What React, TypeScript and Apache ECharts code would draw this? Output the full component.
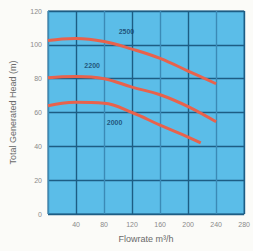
import React, { useEffect, useRef } from "react";
import * as echarts from "echarts";

const xTicks = [0, 40, 80, 120, 160, 200, 240, 280];
const yTicks = [0, 20, 40, 60, 80, 100, 120];

const flow2500 = [0, 20, 40, 80, 120, 160, 200, 240];
const head2500 = [102.5, 103.5, 103.8, 102, 97.5, 92, 84.5, 77];

const flow2200 = [0, 20, 40, 80, 120, 160, 200, 240];
const head2200 = [80.5, 81.2, 81.3, 80, 75, 70.5, 63.5, 54.5];

const flow2000 = [0, 20, 40, 80, 120, 160, 200, 218];
const head2000 = [64, 65.5, 66, 65.5, 60, 52.5, 45.5, 42];

const curveLabels = ["2500", "2200", "2000"];
const labelPos = [
  [112, 108],
  [63, 88],
  [95, 54],
];

function pairs(xs: number[], ys: number[]) {
  return xs.map((x, i) => [x, ys[i]]);
}

export default function App() {
  const ref = useRef<HTMLDivElement>(null);
  useEffect(() => {
    const chart = echarts.init(ref.current!, null, { renderer: "svg" });
    const curveStyle = { color: "#e8624c", width: 3 };
    chart.setOption({
      animation: false,
      textStyle: { fontFamily: "Liberation Sans, Arial, sans-serif" },
      grid: {
        left: 46,
        top: 11,
        width: 206,
        height: 203,
        show: true,
        backgroundColor: "#5bbde8",
        borderColor: "#1d5d84",
        borderWidth: 1,
      },
      xAxis: {
        type: "value",
        min: 0,
        max: 280,
        interval: 40,
        name: "Flowrate m\u00b3/h",
        nameLocation: "middle",
        nameGap: 20,
        nameTextStyle: { color: "#6a6a6a", fontSize: 9 },
        axisLine: { show: false },
        axisTick: { show: false },
        axisLabel: {
          color: "#8a8a8a",
          fontSize: 7,
          margin: 7,
          formatter: (v: number) => (v === 0 ? "" : String(v)),
        },
        splitLine: {
          show: true,
          lineStyle: { color: ["#3b8ab6", "#1d5d84"], width: 1.4 },
        },
      },
      yAxis: {
        type: "value",
        min: 0,
        max: 120,
        interval: 20,
        name: "Total Generated Head (m)",
        nameLocation: "middle",
        nameGap: 31,
        nameTextStyle: { color: "#6a6a6a", fontSize: 9 },
        axisLine: { show: false },
        axisTick: { show: false },
        axisLabel: { color: "#8a8a8a", fontSize: 7, margin: 6 },
        splitLine: {
          show: true,
          lineStyle: { color: "#1d5d84", width: 1.4 },
        },
      },
      series: [
        {
          type: "line",
          data: pairs(flow2500, head2500),
          smooth: 0.4,
          showSymbol: false,
          lineStyle: curveStyle,
        },
        {
          type: "line",
          data: pairs(flow2200, head2200),
          smooth: 0.4,
          showSymbol: false,
          lineStyle: curveStyle,
        },
        {
          type: "line",
          data: pairs(flow2000, head2000),
          smooth: 0.4,
          showSymbol: false,
          lineStyle: curveStyle,
        },
        {
          type: "scatter",
          data: labelPos.map((p, i) => ({ value: p, name: curveLabels[i] })),
          symbolSize: 0,
          label: {
            show: true,
            position: "inside",
            formatter: (p: any) => p.name,
            color: "#123a5e",
            fontSize: 7,
            fontWeight: "bold",
          },
        },
      ],
    });
    return () => chart.dispose();
  }, []);
  return (
    <div
      ref={ref}
      style={{ width: 253, height: 251, position: "absolute", left: 0, top: 0, background: "#fbfbf8" }}
    />
  );
}
